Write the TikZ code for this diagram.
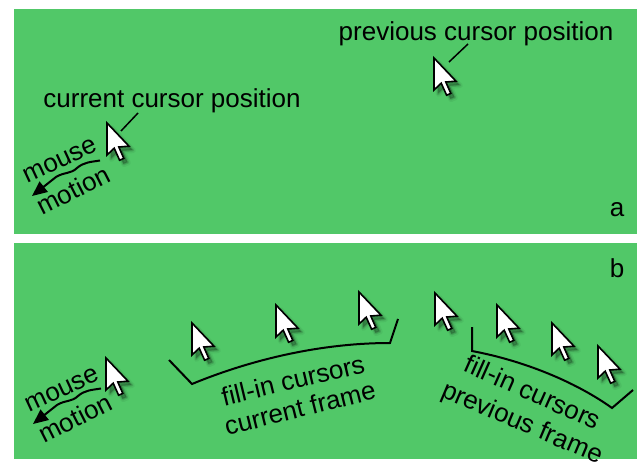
\documentclass[tikz,border=0pt]{standalone}
\usepackage{fontspec}
\setmainfont{Liberation Sans}
\usetikzlibrary{arrows.meta}
\definecolor{panelgreen}{RGB}{81,200,104}
\tikzset{
  curpath/.style={insert path={(0,0) -- (0,16) -- (3.6,12.6) -- (6.3,18.6) -- (8.4,17.7) -- (5.9,12) -- (11,11.6) -- cycle}},
  cursorpic/.pic={
    \begin{scope}[scale=2]
      \path[fill=black,draw=black,line width=5pt,line join=round,opacity=0.05,shift={(2.2,2.2)},curpath];
      \path[fill=black,draw=black,line width=2.5pt,line join=round,opacity=0.10,shift={(2,2)},curpath];
      \path[fill=black,opacity=0.18,shift={(1.8,1.8)},curpath];
      \path[fill=white,draw=black,line width=1.6pt,line join=miter,curpath];
    \end{scope}
  },
  lbl/.style={font=\fontsize{26}{30}\selectfont,inner sep=0pt,text=black},
  leader/.style={draw=black,line width=1.5pt},
  bracket/.style={draw=black,line width=2pt,line join=miter},
  motionarrow/.style={draw=black,line width=2pt,-{Triangle[length=15pt,width=13pt]}},
  panel/.style={fill=panelgreen,draw=none}
}
\begin{document}
\begin{tikzpicture}[x=1pt,y=-1pt]
\useasboundingbox (0,0) rectangle (637,462);
\fill[white] (0,0) rectangle (637,462);
% panels
\path[panel] (14,9) rectangle (637,234);
\path[panel] (14,243) rectangle (637,459);

% ---------- panel a ----------
\node[lbl] (curtxt) at (172,101) {current cursor position};
\node[lbl] (prevtxt) at (476,34) {previous cursor position};
\node[lbl] (alab) at (617,210) {a};

\pic at (107,123) {cursorpic};
\pic at (434,58) {cursorpic};
\coordinate (curA) at (121,131);
\coordinate (curAtop) at (138,113);
\coordinate (prevA) at (449,62);
\coordinate (prevAtop) at (468,44);
\draw[leader] (curAtop) -- (curA);
\draw[leader] (prevAtop) -- (prevA);

\node[lbl,rotate=25] (mouseA) at (60,161) {mouse};
\node[lbl,rotate=27] (motionA) at (73,190) {motion};
\coordinate (mstartA) at (100,160.5);
\coordinate (mendA) at (32,196);
\draw[motionarrow] (mstartA) .. controls (91,162) and (84,162) .. (77,168)
   .. controls (71,174) and (64,172) .. (56,177) -- (mendA);

% ---------- panel b ----------
\node[lbl] (blab) at (617,268) {b};

\node[lbl,rotate=25] (mouseB) at (62,390) {mouse};
\node[lbl,rotate=27] (motionB) at (75,418) {motion};
\coordinate (mstartB) at (101,388.5);
\coordinate (mendB) at (33,424);
\draw[motionarrow] (mstartB) .. controls (92,390) and (85,390) .. (78,396)
   .. controls (72,402) and (65,400) .. (57,405) -- (mendB);

\pic at (106,358) {cursorpic};
\pic at (192,323) {cursorpic};
\pic at (276,305) {cursorpic};
\pic at (359,292) {cursorpic};
\pic at (435,293) {cursorpic};
\pic at (497,305) {cursorpic};
\pic at (552,323) {cursorpic};
\pic at (598,346) {cursorpic};

% brackets
\coordinate (b1a) at (169,360);
\coordinate (b1b) at (192,384);
\coordinate (b1c) at (390,343);
\coordinate (b1d) at (398,319);
\draw[bracket] (b1a) -- (b1b) .. controls (250,360) and (320,343) .. (b1c) -- (b1d);

\coordinate (b2a) at (472,327);
\coordinate (b2b) at (472,351);
\coordinate (b2c) at (612,408);
\coordinate (b2d) at (633,390);
\draw[bracket] (b2a) -- (b2b) .. controls (530,362) and (580,385) .. (b2c) -- (b2d);

\node[lbl,rotate=13.5] (fillcur) at (293,380) {fill-in cursors};
\node[lbl,rotate=14] (curframe) at (300,408) {current frame};
\node[lbl,rotate=-24] (fillprev) at (533,392) {fill-in cursors};
\node[lbl,rotate=-23] (prevframe) at (522,424) {previous frame};
\end{tikzpicture}
\end{document}
